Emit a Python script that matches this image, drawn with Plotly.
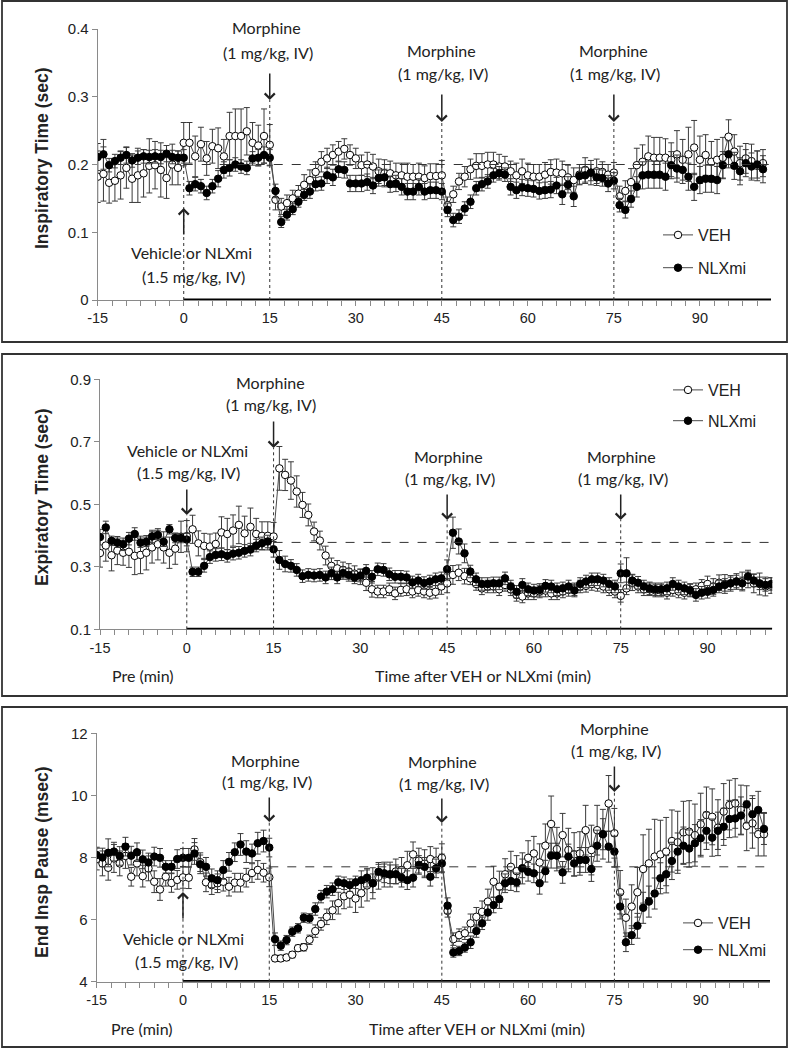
import plotly.graph_objects as go

W, H = 790, 1050

# ---------------- data ----------------
minutes = list(range(-15, 102))

insp_veh = [0.182, 0.186, 0.173, 0.176, 0.184, 0.195, 0.179, 0.184, 0.187, 0.198, 0.199, 0.192, 0.180, 0.200, 0.195, 0.232,
            0.232, 0.212, 0.230, 0.209, 0.227, 0.224, 0.212, 0.242, 0.242, 0.242, 0.249, 0.232, 0.228, 0.242, 0.229,
            0.148, 0.138, 0.143, 0.150, 0.157, 0.170, 0.177, 0.189, 0.204, 0.209, 0.214, 0.219, 0.223, 0.214, 0.209,
            0.199, 0.200, 0.197, 0.190, 0.187, 0.187, 0.184, 0.184, 0.182, 0.182, 0.182, 0.180, 0.183, 0.183, 0.184,
            0.140, 0.156, 0.175, 0.182, 0.193, 0.198, 0.198, 0.200, 0.200, 0.197, 0.197, 0.190, 0.184, 0.190, 0.184,
            0.182, 0.182, 0.185, 0.189, 0.188, 0.187, 0.181, 0.177, 0.185, 0.192, 0.188, 0.190, 0.189, 0.185, 0.188,
            0.153, 0.161, 0.174, 0.199, 0.204, 0.212, 0.210, 0.210, 0.210, 0.207, 0.215, 0.207, 0.215, 0.225, 0.207,
            0.214, 0.204, 0.207, 0.210, 0.241, 0.219, 0.202, 0.209, 0.205, 0.198, 0.202]
insp_veh_err = [0.038, 0.040, 0.030, 0.030, 0.035, 0.030, 0.035, 0.040, 0.035, 0.040, 0.035, 0.040, 0.030, 0.030, 0.025, 0.030,
                0.030, 0.030, 0.025, 0.025, 0.025, 0.030, 0.025, 0.035, 0.040, 0.040, 0.035, 0.030, 0.030, 0.040, 0.030,
                0.015, 0.012, 0.012, 0.012, 0.012, 0.015, 0.015, 0.015, 0.015, 0.015, 0.015, 0.015, 0.015, 0.015, 0.015,
                0.015, 0.018, 0.018, 0.018, 0.020, 0.018, 0.018, 0.018, 0.020, 0.018, 0.020, 0.018, 0.018, 0.018, 0.022,
                0.012, 0.012, 0.012, 0.015, 0.015, 0.018, 0.018, 0.018, 0.018, 0.018, 0.015, 0.015, 0.018, 0.018, 0.018,
                0.018, 0.018, 0.018, 0.018, 0.020, 0.018, 0.018, 0.018, 0.015, 0.018, 0.018, 0.018, 0.015, 0.015, 0.015,
                0.015, 0.015, 0.020, 0.025, 0.025, 0.030, 0.030, 0.030, 0.028, 0.025, 0.035, 0.030, 0.040, 0.040, 0.035,
                0.030, 0.030, 0.030, 0.030, 0.025, 0.025, 0.025, 0.022, 0.025, 0.022, 0.020]
insp_nlx = [0.211, 0.215, 0.199, 0.205, 0.210, 0.214, 0.206, 0.210, 0.212, 0.211, 0.212, 0.211, 0.216, 0.211, 0.210, 0.210,
            0.165, 0.171, 0.168, 0.158, 0.168, 0.179, 0.192, 0.195, 0.200, 0.197, 0.195, 0.209, 0.210, 0.214, 0.210,
            0.161, 0.115, 0.126, 0.134, 0.145, 0.155, 0.160, 0.171, 0.172, 0.184, 0.181, 0.193, 0.192, 0.172, 0.172,
            0.172, 0.174, 0.169, 0.180, 0.181, 0.171, 0.172, 0.167, 0.160, 0.160, 0.167, 0.160, 0.162, 0.162, 0.160,
            0.133, 0.118, 0.123, 0.135, 0.145, 0.165, 0.171, 0.175, 0.184, 0.187, 0.185, 0.167, 0.162, 0.166, 0.165,
            0.164, 0.161, 0.162, 0.163, 0.169, 0.156, 0.170, 0.153, 0.183, 0.184, 0.188, 0.181, 0.180, 0.172, 0.176,
            0.140, 0.133, 0.149, 0.167, 0.184, 0.185, 0.185, 0.185, 0.182, 0.199, 0.194, 0.192, 0.182, 0.167, 0.177,
            0.179, 0.179, 0.177, 0.199, 0.215, 0.198, 0.190, 0.202, 0.197, 0.200, 0.193]
insp_nlx_err = [0.020, 0.022, 0.010, 0.010, 0.010, 0.012, 0.010, 0.010, 0.010, 0.010, 0.010, 0.010, 0.012, 0.010, 0.010, 0.012,
                0.010, 0.010, 0.010, 0.010, 0.010, 0.012, 0.012, 0.012, 0.010, 0.010, 0.010, 0.010, 0.012, 0.012, 0.012,
                0.010, 0.008, 0.008, 0.008, 0.008, 0.008, 0.010, 0.010, 0.010, 0.012, 0.012, 0.012, 0.012, 0.012, 0.012,
                0.012, 0.012, 0.012, 0.012, 0.012, 0.012, 0.012, 0.012, 0.012, 0.012, 0.012, 0.012, 0.012, 0.012, 0.012,
                0.010, 0.010, 0.010, 0.010, 0.010, 0.010, 0.010, 0.010, 0.010, 0.010, 0.010, 0.012, 0.012, 0.012, 0.012,
                0.012, 0.012, 0.012, 0.012, 0.012, 0.015, 0.012, 0.015, 0.012, 0.012, 0.012, 0.012, 0.012, 0.012, 0.012,
                0.010, 0.012, 0.012, 0.015, 0.020, 0.020, 0.020, 0.020, 0.020, 0.020, 0.020, 0.020, 0.020, 0.020, 0.020,
                0.020, 0.020, 0.020, 0.020, 0.020, 0.020, 0.020, 0.020, 0.020, 0.020, 0.020]

exp_veh = [0.344, 0.368, 0.337, 0.352, 0.345, 0.348, 0.335, 0.338, 0.345, 0.362, 0.372, 0.362, 0.345, 0.358, 0.396, 0.398,
           0.420, 0.375, 0.367, 0.365, 0.373, 0.410, 0.405, 0.416, 0.434, 0.407, 0.428, 0.405, 0.399, 0.399, 0.397,
           0.615, 0.594, 0.576, 0.541, 0.498, 0.466, 0.413, 0.384, 0.336, 0.303, 0.295, 0.290, 0.285, 0.278, 0.268,
           0.249, 0.228, 0.221, 0.221, 0.228, 0.215, 0.226, 0.228, 0.221, 0.226, 0.221, 0.217, 0.220, 0.237, 0.247,
           0.274, 0.281, 0.270, 0.263, 0.245, 0.231, 0.237, 0.237, 0.228, 0.242, 0.228, 0.210, 0.205, 0.215, 0.215,
           0.221, 0.224, 0.215, 0.215, 0.221, 0.226, 0.228, 0.237, 0.239, 0.245, 0.242, 0.237, 0.228, 0.221, 0.207,
           0.231, 0.249, 0.237, 0.228, 0.228, 0.224, 0.224, 0.217, 0.226, 0.221, 0.217, 0.226, 0.228, 0.239, 0.245,
           0.237, 0.249, 0.245, 0.247, 0.253, 0.253, 0.258, 0.247, 0.245, 0.237, 0.240]
exp_veh_err = [0.045, 0.050, 0.050, 0.045, 0.040, 0.050, 0.060, 0.060, 0.055, 0.050, 0.050, 0.050, 0.050, 0.050, 0.050, 0.050,
               0.045, 0.040, 0.040, 0.040, 0.035, 0.050, 0.050, 0.050, 0.060, 0.055, 0.060, 0.050, 0.045, 0.045, 0.045,
               0.070, 0.050, 0.060, 0.050, 0.040, 0.035, 0.030, 0.030, 0.030, 0.025, 0.025, 0.025, 0.025, 0.025, 0.025,
               0.025, 0.025, 0.020, 0.020, 0.020, 0.020, 0.020, 0.020, 0.020, 0.020, 0.020, 0.020, 0.020, 0.025, 0.030,
               0.030, 0.025, 0.025, 0.020, 0.020, 0.020, 0.020, 0.020, 0.020, 0.020, 0.020, 0.020, 0.020, 0.020, 0.020,
               0.020, 0.020, 0.020, 0.020, 0.020, 0.020, 0.020, 0.020, 0.020, 0.020, 0.020, 0.020, 0.020, 0.020, 0.020,
               0.020, 0.025, 0.020, 0.020, 0.020, 0.020, 0.020, 0.020, 0.020, 0.020, 0.020, 0.020, 0.020, 0.020, 0.025,
               0.025, 0.025, 0.030, 0.025, 0.025, 0.030, 0.025, 0.030, 0.035, 0.030, 0.025]
exp_nlx = [0.395, 0.426, 0.383, 0.377, 0.372, 0.390, 0.405, 0.377, 0.380, 0.397, 0.402, 0.380, 0.420, 0.392, 0.392, 0.387,
           0.284, 0.284, 0.303, 0.331, 0.338, 0.340, 0.335, 0.342, 0.345, 0.351, 0.355, 0.368, 0.375, 0.381, 0.356,
           0.322, 0.309, 0.303, 0.290, 0.270, 0.274, 0.272, 0.274, 0.266, 0.279, 0.266, 0.280, 0.274, 0.266, 0.272,
           0.287, 0.268, 0.292, 0.290, 0.276, 0.268, 0.268, 0.266, 0.250, 0.256, 0.248, 0.253, 0.260, 0.263, 0.292,
           0.409, 0.381, 0.343, 0.285, 0.260, 0.245, 0.245, 0.247, 0.247, 0.263, 0.237, 0.220, 0.242, 0.228, 0.224,
           0.226, 0.239, 0.237, 0.228, 0.231, 0.237, 0.224, 0.245, 0.253, 0.260, 0.260, 0.256, 0.245, 0.237, 0.279,
           0.279, 0.256, 0.249, 0.237, 0.231, 0.228, 0.228, 0.231, 0.245, 0.237, 0.231, 0.224, 0.210, 0.217, 0.220,
           0.226, 0.237, 0.242, 0.247, 0.253, 0.247, 0.269, 0.256, 0.247, 0.242, 0.245]
exp_nlx_err = [0.025, 0.020, 0.015, 0.015, 0.020, 0.020, 0.020, 0.015, 0.015, 0.020, 0.015, 0.015, 0.015, 0.015, 0.015, 0.020,
               0.015, 0.015, 0.020, 0.020, 0.020, 0.020, 0.020, 0.020, 0.020, 0.020, 0.020, 0.020, 0.020, 0.020, 0.025,
               0.030, 0.025, 0.020, 0.020, 0.020, 0.020, 0.020, 0.020, 0.020, 0.020, 0.020, 0.020, 0.020, 0.020, 0.020,
               0.020, 0.020, 0.020, 0.020, 0.020, 0.020, 0.020, 0.020, 0.020, 0.020, 0.020, 0.020, 0.020, 0.020, 0.030,
               0.050, 0.040, 0.030, 0.020, 0.020, 0.020, 0.020, 0.020, 0.020, 0.020, 0.020, 0.020, 0.020, 0.020, 0.020,
               0.020, 0.020, 0.020, 0.020, 0.020, 0.020, 0.020, 0.020, 0.020, 0.020, 0.020, 0.020, 0.020, 0.020, 0.030,
               0.050, 0.020, 0.020, 0.020, 0.020, 0.020, 0.020, 0.020, 0.020, 0.020, 0.020, 0.020, 0.020, 0.020, 0.020,
               0.020, 0.020, 0.020, 0.020, 0.020, 0.020, 0.020, 0.020, 0.020, 0.020, 0.020]

pause_veh = [7.95, 7.81, 7.67, 7.97, 7.81, 8.05, 7.38, 7.81, 7.40, 7.65, 7.22, 6.97, 7.38, 7.18, 7.28, 7.36,
             7.35, 8.26, 7.85, 7.20, 7.11, 7.17, 7.22, 7.06, 7.19, 7.19, 7.35, 7.50, 7.60, 7.51, 7.36,
             4.75, 4.75, 4.78, 4.87, 5.08, 5.11, 5.35, 5.63, 5.86, 6.09, 6.30, 6.53, 6.75, 6.80, 6.68,
             6.85, 7.10, 7.17, 7.38, 7.45, 7.45, 7.55, 7.60, 7.75, 8.10, 7.90, 7.80, 7.95, 7.90, 7.99,
             6.28, 5.37, 5.50, 5.56, 5.88, 6.09, 6.25, 6.58, 7.22, 7.06, 7.46, 7.70, 7.56, 7.65, 7.99,
             8.13, 7.84, 8.38, 9.08, 8.27, 8.72, 8.24, 8.10, 8.13, 8.88, 8.24, 8.88, 8.75, 9.74, 8.78,
             6.88, 6.06, 6.42, 6.88, 7.63, 7.81, 8.03, 8.10, 8.19, 8.53, 8.49, 8.81, 8.83, 8.72, 9.07,
             9.37, 9.31, 8.96, 9.48, 9.69, 9.74, 9.53, 9.02, 9.10, 8.75, 8.75]
pause_veh_err = [0.35, 0.40, 0.40, 0.45, 0.40, 0.40, 0.30, 0.40, 0.35, 0.40, 0.35, 0.35, 0.30, 0.30, 0.30, 0.35,
                 0.35, 0.35, 0.30, 0.30, 0.30, 0.30, 0.30, 0.30, 0.30, 0.30, 0.30, 0.30, 0.30, 0.30, 0.30,
                 0.10, 0.10, 0.10, 0.10, 0.10, 0.12, 0.15, 0.20, 0.20, 0.25, 0.30, 0.35, 0.40, 0.40, 0.45,
                 0.45, 0.50, 0.50, 0.40, 0.40, 0.40, 0.40, 0.40, 0.45, 0.40, 0.40, 0.45, 0.40, 0.40, 0.45,
                 0.20, 0.20, 0.20, 0.20, 0.30, 0.30, 0.35, 0.40, 0.50, 0.50, 0.50, 0.50, 0.50, 0.50, 0.55,
                 0.55, 0.60, 0.70, 0.90, 0.70, 0.70, 0.70, 0.70, 0.70, 0.80, 0.80, 0.80, 0.80, 0.90, 0.80,
                 0.70, 0.60, 0.70, 0.80, 1.10, 1.10, 1.20, 1.10, 1.10, 1.00, 1.00, 1.00, 1.00, 1.00, 1.00,
                 0.90, 0.90, 0.90, 0.90, 0.80, 0.80, 0.80, 0.80, 0.80, 0.70, 0.70]
pause_nlx = [8.08, 8.00, 8.15, 8.19, 8.05, 8.35, 8.06, 8.17, 7.94, 7.84, 8.03, 7.99, 7.70, 7.70, 7.95, 7.99,
             7.99, 8.13, 7.78, 7.70, 7.33, 7.27, 7.60, 7.86, 8.17, 8.42, 8.19, 8.13, 8.46, 8.53, 8.32,
             5.37, 5.16, 5.34, 5.61, 5.72, 6.06, 6.04, 6.34, 6.74, 6.90, 6.98, 7.20, 7.17, 7.11, 7.20,
             7.27, 7.35, 7.17, 7.54, 7.49, 7.46, 7.46, 7.35, 7.27, 7.35, 7.76, 7.70, 7.38, 7.65, 7.81,
             6.45, 4.94, 4.99, 5.10, 5.27, 5.63, 5.88, 6.23, 6.47, 6.66, 7.17, 7.24, 7.20, 7.65, 7.54,
             7.49, 7.17, 7.56, 8.06, 8.06, 7.52, 8.03, 7.81, 7.92, 7.92, 7.63, 8.38, 8.75, 8.35, 8.19,
             6.42, 5.27, 5.50, 5.80, 6.38, 6.58, 6.84, 7.33, 7.46, 7.89, 8.19, 8.38, 8.29, 8.46, 8.62,
             8.86, 8.64, 8.86, 8.99, 9.24, 9.26, 9.35, 9.71, 9.39, 9.53, 8.92]
pause_nlx_err = [0.25, 0.30, 0.45, 0.30, 0.30, 0.30, 0.30, 0.30, 0.30, 0.30, 0.30, 0.30, 0.20, 0.20, 0.30, 0.30,
                 0.30, 0.35, 0.30, 0.30, 0.30, 0.30, 0.30, 0.30, 0.30, 0.35, 0.35, 0.30, 0.35, 0.35, 0.30,
                 0.20, 0.15, 0.15, 0.15, 0.15, 0.15, 0.15, 0.20, 0.20, 0.20, 0.20, 0.20, 0.20, 0.20, 0.20,
                 0.30, 0.30, 0.30, 0.30, 0.30, 0.30, 0.30, 0.30, 0.30, 0.30, 0.30, 0.30, 0.30, 0.30, 0.30,
                 0.25, 0.15, 0.15, 0.15, 0.20, 0.20, 0.20, 0.25, 0.25, 0.30, 0.30, 0.30, 0.30, 0.30, 0.30,
                 0.30, 0.35, 0.35, 0.40, 0.40, 0.35, 0.40, 0.40, 0.40, 0.40, 0.40, 0.50, 0.50, 0.50, 0.50,
                 0.40, 0.30, 0.30, 0.40, 0.50, 0.50, 0.50, 0.50, 0.60, 0.60, 0.60, 0.60, 0.60, 0.60, 0.60,
                 0.60, 0.60, 0.60, 0.60, 0.60, 0.60, 0.60, 0.60, 0.60, 0.60, 0.50]

series_names = ["VEH", "NLXmi"]
y_titles = ["Inspiratory Time (sec)", "Expiratory Time (sec)", "End Insp Pause (msec)"]
y_tickvals = [[0, 0.1, 0.2, 0.3, 0.4], [0.1, 0.3, 0.5, 0.7, 0.9], [4, 6, 8, 10, 12]]
y_ticktext = [["0", "0.1", "0.2", "0.3", "0.4"], ["0.1", "0.3", "0.5", "0.7", "0.9"], ["4", "6", "8", "10", "12"]]
baselines = [0.2, 0.378, 7.7]
x_label_vals = [-15, 0, 15, 30, 45, 60, 75, 90]

# ---------------- layout geometry (pixels) ----------------
def px(x):
    return x / W


def py(y):
    return 1 - y / H


FONT_TXT = "Lato, Carlito, sans-serif"
FONT_AX = "Liberation Sans, Arial, sans-serif"
INK = "#222222"
AXC = "#8a8a8a"

panels = [
    dict(xpix=(97.7, 771.0), ypix=(300.0, 29.0), xr=(-15, 102.4), yr=(0, 0.4),
         box=(2, 1, 787, 342), title_y=158,
         base_from=0,
         vline_top={0: 162, 15: 100, 45: 122, 75: 122},
         arrows=[(0, 208, 236, "up"), (15, 100, 72, "down"), (45, 122, 93, "down"), (75, 122, 93, "down")],
         texts=[(14.5, 28, "Morphine"), (14.7, 52, "(1 mg/kg, IV)"),
                (45.0, 50, "Morphine"), (45.2, 73, "(1 mg/kg, IV)"),
                (74.9, 50, "Morphine"), (75.2, 73, "(1 mg/kg, IV)"),
                (1.3, 253, "Vehicle or NLXmi"), (1.7, 276, "(1.5 mg/kg, IV)")],
         xtitles=[],
         legend=(658, 218), gap=9),
    dict(xpix=(100.0, 772.3), ypix=(629.3, 379.3), xr=(-15, 101.2), yr=(0.1, 0.9),
         box=(2, 354, 787, 696), title_y=497,
         base_from=15,
         vline_top={0: 515, 15: 448, 45: 520, 75: 520},
         arrows=[(0, 515, 488, "down"), (15, 448, 420, "down"), (45, 520, 493, "down"), (75, 520, 493, "down")],
         texts=[(14.4, 382, "Morphine"), (14.6, 404, "(1 mg/kg, IV)"),
                (45.3, 457, "Morphine"), (45.5, 478, "(1 mg/kg, IV)"),
                (75.2, 457, "Morphine"), (75.4, 478, "(1 mg/kg, IV)"),
                (0.1, 450, "Vehicle or NLXmi"), (0.3, 472, "(1.5 mg/kg, IV)")],
         xtitles=[(-7.6, 675, "Pre (min)"), (51.2, 675, "Time after VEH or NLXmi (min)")],
         legend=(668, 373), gap=7),
    dict(xpix=(96.7, 770.0), ypix=(981.7, 733.3), xr=(-15, 102.05), yr=(4, 12),
         box=(2, 707, 787, 1047), title_y=862,
         base_from=15,
         vline_top={0: 842, 15: 822, 45: 823, 75: 792},
         arrows=[(0, 892, 920, "up"), (15, 822, 796, "down"), (45, 823, 797, "down"), (75, 792, 765, "down")],
         texts=[(14.3, 760, "Morphine"), (14.6, 781, "(1 mg/kg, IV)"),
                (45.1, 761, "Morphine"), (45.4, 783, "(1 mg/kg, IV)"),
                (75.0, 728, "Morphine"), (75.3, 750, "(1 mg/kg, IV)"),
                (0.1, 938, "Vehicle or NLXmi"), (0.6, 961, "(1.5 mg/kg, IV)")],
         xtitles=[(-7.2, 1028, "Pre (min)"), (51.1, 1028, "Time after VEH or NLXmi (min)")],
         legend=(678, 906), gap=3),
]

data_sets = [
    [(insp_veh, insp_veh_err), (insp_nlx, insp_nlx_err)],
    [(exp_veh, exp_veh_err), (exp_nlx, exp_nlx_err)],
    [(pause_veh, pause_veh_err), (pause_nlx, pause_nlx_err)],
]

x_tickvals = [-15 + 2.5 * i for i in range(47)]
x_ticktext = [str(int(v)) if (v in x_label_vals) else "" for v in x_tickvals]

fig = go.Figure()
layout = dict(width=W, height=H, margin=dict(l=0, r=0, t=0, b=0, pad=0, autoexpand=False),
              paper_bgcolor="white", plot_bgcolor="white", showlegend=True, hovermode=False)
shapes = []
annotations = []

for i, (p, ds) in enumerate(zip(panels, data_sets)):
    n = "" if i == 0 else str(i + 1)
    xa, ya = "x" + n, "y" + n
    leg = "legend" + n
    for j, ((vals, errs), name) in enumerate(zip(ds, series_names)):
        filled = (j == 1)
        fig.add_trace(go.Scatter(
            x=minutes, y=vals, name=name, xaxis=xa, yaxis=ya, legend=leg,
            legendgroup=f"p{i}{j}",
            mode="lines+markers",
            line=dict(color="#4a4a4a", width=1),
            marker=dict(symbol="circle", size=7.5,
                        color="black" if filled else "white",
                        line=dict(color="black", width=1)),
            error_y=dict(type="data", array=errs, visible=True, color="#3a3a3a", thickness=1, width=3),
        ))
    x0p, x1p = p["xpix"]
    yb, yt = p["ypix"]
    layout["xaxis" + n] = dict(domain=[px(x0p), px(x1p)], range=list(p["xr"]), anchor=ya,
                               showline=True, linecolor=AXC, linewidth=1, showgrid=False, zeroline=False,
                               ticks="outside", ticklen=5, tickcolor=AXC, tickwidth=1, automargin=False,
                               tickmode="array", tickvals=x_tickvals, ticktext=x_ticktext,
                               tickfont=dict(family=FONT_AX, size=14.5, color=INK))
    layout["yaxis" + n] = dict(domain=[py(yb), py(yt)], range=list(p["yr"]), anchor=xa,
                               showline=True, linecolor=AXC, linewidth=1, showgrid=False, zeroline=False,
                               ticks="outside", ticklen=5, tickcolor=AXC, tickwidth=1, automargin=False,
                               tickmode="array", tickvals=y_tickvals[i], ticktext=y_ticktext[i],
                               tickfont=dict(family=FONT_AX, size=15, color=INK))
    lx, ly = p["legend"]
    layout[leg] = dict(x=px(lx), y=py(ly), xanchor="left", yanchor="top",
                       bgcolor="rgba(0,0,0,0)", borderwidth=0, itemwidth=30,
                       tracegroupgap=p["gap"], font=dict(family=FONT_AX, size=16, color=INK))

    # panel frame
    bx0, by0, bx1, by1 = p["box"]
    shapes.append(dict(type="rect", xref="paper", yref="paper", x0=px(bx0), x1=px(bx1),
                       y0=py(by1), y1=py(by0), line=dict(color="#333333", width=1.8)))
    # thick time axis after injection
    shapes.append(dict(type="line", xref=xa, yref=ya, x0=0, x1=p["xr"][1],
                       y0=p["yr"][0], y1=p["yr"][0], line=dict(color="black", width=3.2)))
    # dashed baseline
    shapes.append(dict(type="line", xref=xa, yref=ya, x0=p["base_from"], x1=p["xr"][1],
                       y0=baselines[i], y1=baselines[i], line=dict(color="#333333", width=1, dash="dash")))
    # dotted event lines
    for t, top in p["vline_top"].items():
        shapes.append(dict(type="line", xref=xa, yref="paper", x0=t, x1=t,
                           y0=py(yb), y1=py(top), line=dict(color="#333333", width=1, dash="dot")))
    # arrows
    for t, head, tail, d in p["arrows"]:
        annotations.append(dict(xref=xa, yref="paper", x=t, y=py(head), ax=0, ay=(tail - head),
                                axref="pixel", ayref="pixel", text="", showarrow=True,
                                arrowhead=4, arrowsize=1.3, arrowwidth=1.5, arrowcolor=INK))
    # text labels
    for tx, ty, s in p["texts"] + p["xtitles"]:
        annotations.append(dict(xref=xa, yref="paper", x=tx, y=py(ty), text=s, showarrow=False,
                                xanchor="center", yanchor="middle",
                                font=dict(family=FONT_TXT, size=16, color=INK)))
    # y-axis title
    annotations.append(dict(xref="paper", yref="paper", x=px(42), y=py(p["title_y"]), text="<b>" + y_titles[i] + "</b>",
                            textangle=-90, showarrow=False, xanchor="center", yanchor="middle",
                            font=dict(family=FONT_AX, size=17.5, color=INK)))

layout["shapes"] = shapes
layout["annotations"] = annotations
fig.update_layout(**layout)

fig.write_html("out.html",
               config={"displayModeBar": False, "staticPlot": True},
               post_script="document.body.style.margin='0px';document.body.style.overflow='hidden';")
